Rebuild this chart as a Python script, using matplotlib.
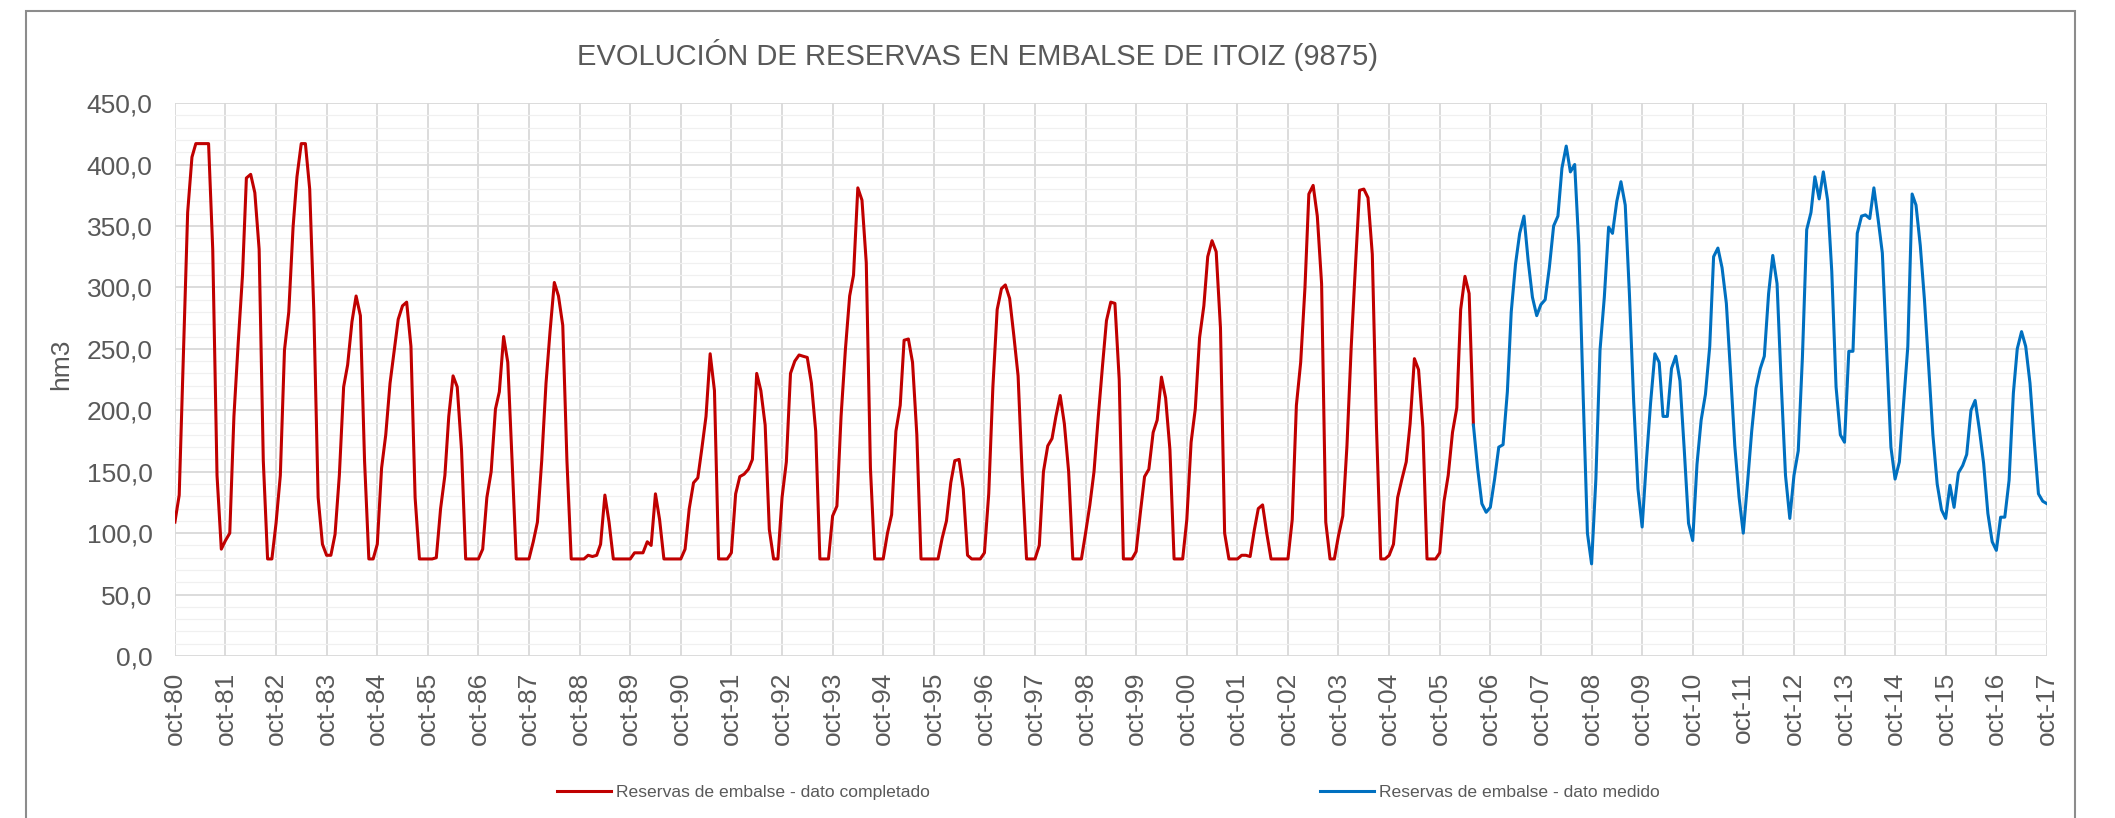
#!/usr/bin/env python3
"""Evolucion de reservas en el embalse de Itoiz (9875), serie mensual oct-80 .. oct-17."""
import numpy as np
import pandas as pd
import matplotlib
matplotlib.use("Agg")
import matplotlib.pyplot as plt
from matplotlib.patches import Rectangle
from matplotlib.ticker import FuncFormatter, MultipleLocator

plt.rcParams["font.family"] = ["Liberation Sans", "DejaVu Sans"]

# --- data (hm3, monthly, first value = oct-80) ---
# completed series, oct-80 .. jun-06
red_values = [
    109, 131, 245, 361, 406, 417, 417, 417, 417, 331, 147, 87,   # 80-81
    94, 100, 195, 255, 310, 389, 392, 377, 331, 159, 79, 79,     # 81-82
    108, 147, 249, 280, 349, 390, 417, 417, 380, 280, 129, 91,   # 82-83
    82, 82, 99, 147, 219, 237, 272, 293, 277, 159, 79, 79,       # 83-84
    91, 153, 180, 222, 249, 274, 285, 288, 252, 129, 79, 79,     # 84-85
    79, 79, 80, 120, 147, 195, 228, 219, 168, 79, 79, 79,        # 85-86
    79, 87, 129, 150, 201, 215, 260, 239, 159, 79, 79, 79,       # 86-87
    79, 93, 109, 159, 222, 264, 304, 293, 269, 159, 79, 79,      # 87-88
    79, 79, 82, 81, 82, 91, 131, 109, 79, 79, 79, 79,            # 88-89
    79, 84, 84, 84, 93, 90, 132, 111, 79, 79, 79, 79,            # 89-90
    79, 87, 120, 141, 145, 168, 195, 246, 216, 79, 79, 79,       # 90-91
    84, 132, 146, 148, 152, 160, 230, 216, 188, 103, 79, 79,     # 91-92
    129, 158, 230, 240, 245, 244, 243, 222, 183, 79, 79, 79,     # 92-93
    114, 122, 195, 249, 293, 310, 381, 371, 320, 153, 79, 79,    # 93-94
    79, 100, 115, 183, 204, 257, 258, 239, 180, 79, 79, 79,      # 94-95
    79, 79, 96, 110, 141, 159, 160, 136, 82, 79, 79, 79,         # 95-96
    84, 132, 219, 282, 299, 302, 291, 261, 228, 147, 79, 79,     # 96-97
    79, 90, 150, 171, 177, 195, 212, 189, 150, 79, 79, 79,       # 97-98
    100, 123, 150, 195, 237, 273, 288, 287, 225, 79, 79, 79,     # 98-99
    85, 117, 146, 152, 182, 192, 227, 210, 168, 79, 79, 79,      # 99-00
    111, 174, 201, 259, 285, 325, 338, 329, 267, 100, 79, 79,    # 00-01
    79, 82, 82, 81, 103, 120, 123, 100, 79, 79, 79, 79,          # 01-02
    79, 111, 204, 239, 300, 376, 383, 358, 303, 109, 79, 79,     # 02-03
    98, 114, 171, 252, 319, 379, 380, 373, 327, 187, 79, 79,     # 03-04
    82, 91, 129, 144, 158, 189, 242, 233, 186, 79, 79, 79,       # 04-05
    84, 126, 147, 182, 202, 282, 309, 295, 188,                  # 05-06
]
# measured series, jun-06 .. oct-17
blue_values = [
    188, 153, 124, 117, 121, 144, 170, 172, 215, 280, 319, 344,
    358, 322, 292, 277, 286, 290, 316, 350, 358, 397, 415, 394,
    400, 334, 213, 100, 75, 144, 249, 292, 349, 344, 370, 386,
    367, 295, 207, 136, 105, 159, 206, 246, 239, 195, 195, 234,
    244, 224, 168, 108, 94, 156, 192, 213, 252, 325, 332, 316,
    287, 231, 171, 129, 100, 141, 183, 218, 234, 244, 295, 326,
    303, 222, 147, 112, 147, 167, 243, 347, 361, 390, 372, 394,
    371, 313, 219, 180, 174, 248, 248, 344, 358, 359, 356, 381,
    355, 328, 249, 170, 144, 158, 205, 252, 376, 367, 334, 290,
    235, 180, 140, 119, 112, 139, 121, 149, 155, 164, 200, 208,
    184, 157, 116, 93, 86, 113, 113, 143, 214, 250, 264, 252,
    222, 176, 132, 126, 124,
]
tick_labels = [
    "oct-80", "oct-81", "oct-82", "oct-83", "oct-84", "oct-85", "oct-86",
    "oct-87", "oct-88", "oct-89", "oct-90", "oct-91", "oct-92", "oct-93",
    "oct-94", "oct-95", "oct-96", "oct-97", "oct-98", "oct-99", "oct-00",
    "oct-01", "oct-02", "oct-03", "oct-04", "oct-05", "oct-06", "oct-07",
    "oct-08", "oct-09", "oct-10", "oct-11", "oct-12", "oct-13", "oct-14",
    "oct-15", "oct-16", "oct-17",
]
label_red = "Reservas de embalse - dato completado"
label_blue = "Reservas de embalse - dato medido"

start = pd.Timestamp("1980-10-01")
red_dates = pd.date_range(start, periods=len(red_values), freq="MS")
blue_dates = pd.date_range(red_dates[-1], periods=len(blue_values), freq="MS")
tick_dates = pd.date_range(start, periods=len(tick_labels), freq="12MS")

TXT = "#595959"
RED = "#C00000"
BLUE = "#0070C0"

fig = plt.figure(figsize=(21.15, 8.18), dpi=100)
ax = fig.add_axes([0.0827, 0.198, 0.8851, 0.676])

ax.plot(red_dates, red_values, color=RED, lw=2.2, zorder=3, label=label_red)
ax.plot(blue_dates, blue_values, color=BLUE, lw=2.2, zorder=3, label=label_blue)

ax.set_xlim(tick_dates[0], tick_dates[-1])
ax.set_ylim(0, 450)
ax.set_xticks(tick_dates, tick_labels, rotation=90)
ax.yaxis.set_major_locator(MultipleLocator(50))
ax.yaxis.set_minor_locator(MultipleLocator(10))
ax.yaxis.set_major_formatter(FuncFormatter(lambda v, _: f"{v:.1f}".replace(".", ",")))

ax.grid(which="major", axis="both", color="#D9D9D9", lw=1.3, zorder=1)
ax.grid(which="minor", axis="y", color="#F0F0F0", lw=0.9, zorder=0)
ax.set_axisbelow(True)
for s in ax.spines.values():
    s.set_visible(False)
ax.tick_params(axis="both", which="both", length=0, labelcolor=TXT, labelsize=19)
ax.tick_params(axis="y", pad=16)
ax.tick_params(axis="x", pad=11)

fig.text(61 / 2115, 1 - 364 / 818, "hm3", rotation=90, ha="center", va="center",
         fontsize=19, color=TXT)
fig.text(0.462, 0.933, "EVOLUCIÓN DE RESERVAS EN EMBALSE DE ITOIZ (9875)",
         ha="center", va="center", fontsize=21, color=TXT)

leg = fig.legend(loc="center", bbox_to_anchor=(0.524, 0.031), ncol=2, frameon=False,
                 fontsize=12.6, handlelength=3.1, handletextpad=0.25, columnspacing=22.3)
for t in leg.get_texts():
    t.set_color(TXT)

# outer chart border
fig.patches.append(Rectangle((26 / 2115, -0.02), (2075 - 26) / 2115, 1.02 - 11 / 818,
                             transform=fig.transFigure, fill=False,
                             ec="#8C8C8C", lw=1.5))

fig.savefig("out.png", dpi=100)
print("Saved: out.png")
